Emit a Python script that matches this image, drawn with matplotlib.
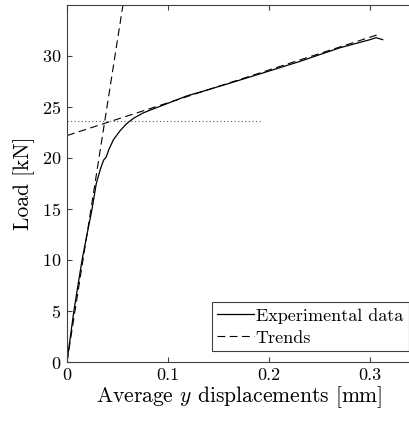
import matplotlib
matplotlib.use("Agg")
import matplotlib.pyplot as plt
import numpy as np

plt.rcParams['font.family'] = 'serif'
plt.rcParams['font.serif'] = ['cmr10']
plt.rcParams['mathtext.fontset'] = 'cm'
plt.rcParams['axes.formatter.use_mathtext'] = True
plt.rcParams['axes.unicode_minus'] = False

disp_exp = [0, 0.0035, 0.0068, 0.0105, 0.0149, 0.020, 0.0248, 0.029, 0.033, 0.0363,
            0.0389, 0.0413, 0.046, 0.0528, 0.0594, 0.066, 0.075, 0.0825, 0.0957,
            0.119, 0.1366, 0.160, 0.196, 0.230, 0.270, 0.300, 0.306, 0.3125]
load_exp = [0, 2.6, 5.0, 7.3, 10.0, 12.6, 15.0, 17.5, 18.9, 19.8,
            20.1, 20.8, 21.8, 22.7, 23.4, 23.9, 24.4, 24.7, 25.2,
            26.1, 26.6, 27.3, 28.4, 29.45, 30.8, 31.6, 31.8, 31.6]

# Trend lines
steep_x = [0.0, 0.0554]
steep_y = [0.0, 35.0]
shallow_x = [0.0, 0.308]
shallow_y = [22.2, 32.1]
yield_x = [0.0, 0.191]
yield_y = [23.6, 23.6]

xticks = [0, 0.1, 0.2, 0.3]
xticklabels = ['0', '0.1', '0.2', '0.3']
yticks = [0, 5, 10, 15, 20, 25, 30]

fig = plt.figure(figsize=(4.09, 4.23), dpi=100)
ax = fig.add_axes([67/409, 61/423, 343.4/409, 357/423])

ax.plot(disp_exp, load_exp, color='black', lw=0.9, label='Experimental data')
ax.plot(steep_x, steep_y, color='black', lw=0.8, linestyle=(0, (7, 4)), label='Trends')
ax.plot(shallow_x, shallow_y, color='black', lw=0.8, linestyle=(0, (7, 4)))
ax.plot(yield_x, yield_y, color='0.35', lw=0.8, linestyle=(0, (1, 2.2)))

ax.set_xlim(0, 0.34)
ax.set_ylim(0, 35)
ax.set_xticks(xticks)
ax.set_xticklabels(xticklabels)
ax.set_yticks(yticks)

axcol = '0.25'
for s in ['left', 'bottom', 'top']:
    ax.spines[s].set_color(axcol)
    ax.spines[s].set_linewidth(0.8)
ax.spines['right'].set_visible(False)
ax.tick_params(direction='in', top=True, right=False, length=3.5, width=0.8,
               color=axcol, labelsize=13, labelcolor='black', pad=4)

ax.set_xlabel('Average $y$ displacements [mm]', fontsize=15.5, labelpad=1)
ax.set_ylabel('Load [kN]', fontsize=15.5, labelpad=5)

leg = ax.legend(loc='lower right', bbox_to_anchor=(0.9945, 0.031), fontsize=13,
                frameon=True, fancybox=False, edgecolor=axcol, framealpha=1,
                handlelength=2.05, handletextpad=0.1, borderpad=0.3,
                labelspacing=0.35, borderaxespad=0)
leg.get_frame().set_linewidth(0.8)

fig.savefig('out.png', dpi=100)
